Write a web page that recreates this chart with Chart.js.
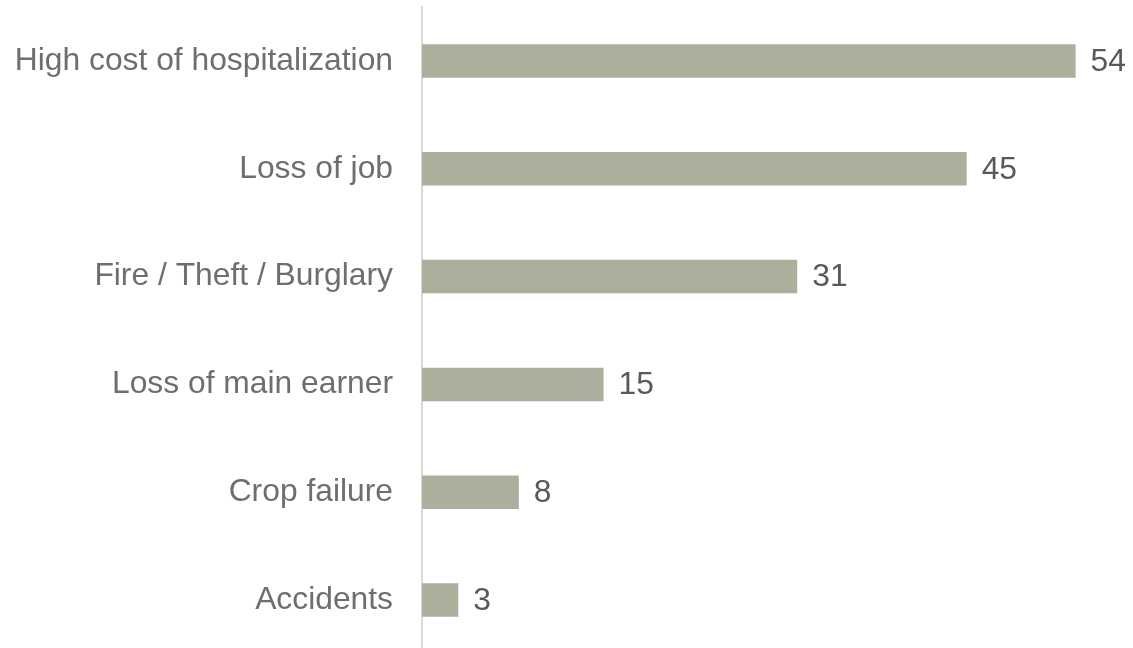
<!DOCTYPE html>
<html lang="en">
<head>
<meta charset="UTF-8" />
<title>Reasons</title>
<script src="https://cdn.jsdelivr.net/npm/chart.js@4.4.1/dist/chart.umd.min.js"></script>
<style>
  html,body{margin:0;padding:0;background:#fff;overflow:hidden}
  canvas{display:block}
</style>
</head>
<body>
<canvas id="c" width="1133" height="654"></canvas>
<script>
const categories = ['High cost of hospitalization', 'Loss of job', 'Fire / Theft / Burglary', 'Loss of main earner', 'Crop failure', 'Accidents'];
const values = [54, 45, 31, 15, 8, 3];

const FONT = '"Liberation Sans", Arial, sans-serif';
const SIZE = 31.8;

// draws the numbers to the right of each bar
const valueLabels = {
  id: 'valueLabels',
  afterDatasetsDraw(chart) {
    const ctx = chart.ctx;
    const meta = chart.getDatasetMeta(0);
    ctx.save();
    ctx.font = SIZE + 'px ' + FONT;
    ctx.fillStyle = '#595959';
    ctx.textAlign = 'left';
    ctx.textBaseline = 'middle';
    meta.data.forEach((bar, i) => {
      ctx.fillText(String(values[i]), bar.x + 15, bar.y + 1);
    });
    ctx.restore();
  }
};

new Chart(document.getElementById('c'), {
  type: 'bar',
  data: {
    labels: categories,
    datasets: [{
      data: values,
      backgroundColor: '#ADAE9C',
      categoryPercentage: 1,
      barPercentage: 0.31
    }]
  },
  options: {
    indexAxis: 'y',
    responsive: false,
    animation: false,
    layout: { padding: { top: 7, bottom: 0, left: 0, right: 9 } },
    plugins: { legend: { display: false }, tooltip: { enabled: false } },
    scales: {
      x: { display: false, min: 0, max: 58 },
      y: {
        afterFit(s) { s.width = 422; s.paddingTop = 0; s.paddingBottom = 0; },
        grid: { display: false, drawTicks: false },
        border: { display: true, color: '#D9D9D9', width: 2 },
        ticks: { color: '#6E6E6E', font: { family: FONT, size: SIZE }, padding: 29 }
      }
    }
  },
  plugins: [valueLabels]
});
</script>
</body>
</html>
